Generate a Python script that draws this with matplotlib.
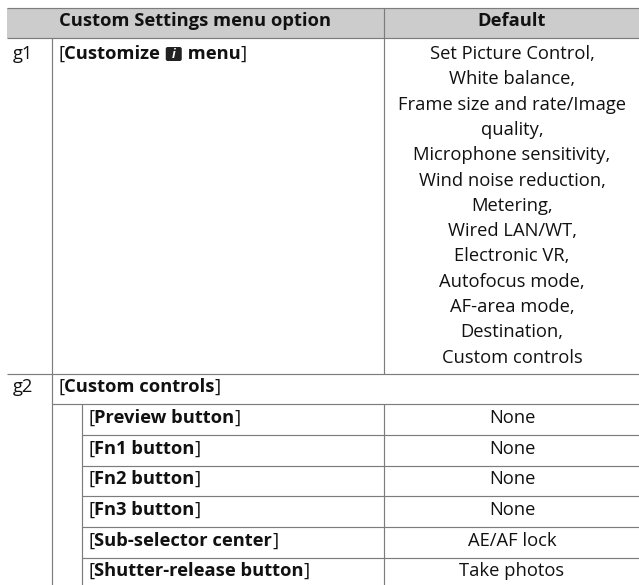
import matplotlib
matplotlib.use("Agg")
import matplotlib.pyplot as plt
from matplotlib.patches import Rectangle, FancyBboxPatch

plt.rcParams['font.family'] = ['Open Sans', 'DejaVu Sans']

W, H = 639, 585
header_left = "Custom Settings menu option"
header_right = "Default"
g1_default = ["Set Picture Control,", "White balance,", "Frame size and rate/Image", "quality,",
              "Microphone sensitivity,", "Wind noise reduction,", "Metering,", "Wired LAN/WT,",
              "Electronic VR,", "Autofocus mode,", "AF-area mode,", "Destination,", "Custom controls"]
sub_options = ["Preview button", "Fn1 button", "Fn2 button", "Fn3 button", "Sub-selector center", "Shutter-release button"]
sub_defaults = ["None", "None", "None", "None", "AE/AF lock", "Take photos"]

fig = plt.figure(figsize=(W/100, H/100), dpi=100)
ax = fig.add_axes([0, 0, 1, 1])
ax.set_xlim(0, W); ax.set_ylim(H, 0); ax.axis('off')

LC = '#7c7c7c'; LW = 0.85; FS = 13.2; TC = '#111111'
def hl(y, x0, x1=W): ax.plot([x0, x1], [y, y], color=LC, lw=LW, solid_capstyle='butt')
def vl(x, y0, y1): ax.plot([x, x], [y0, y1], color=LC, lw=LW, solid_capstyle='butt')

ax.add_patch(Rectangle((7, 8), W-7, 30, fc='#cccccc', ec='none'))
hl(8, 7); hl(38, 7); hl(374, 7); hl(404, 52)
row_lines = [435, 466, 496, 527, 558]
for y in row_lines: hl(y, 82)
vl(52, 38, 585); vl(82, 404, 585); vl(384, 8, 374); vl(384, 404, 585)

def t(x, y, s, **k):
    k.setdefault('fontsize', FS); k.setdefault('color', TC)
    return ax.text(x, y, s, va='baseline', **k)

t(195, 26.5, header_left, ha='center', fontweight='bold')
t(512, 26.5, header_right, ha='center', fontweight='bold')
t(13, 59, "g1"); t(13, 392, "g2")

def bracket(x, y, parts):
    r = fig.canvas.get_renderer()
    for s, w in parts:
        if s is None:
            ax.add_patch(FancyBboxPatch((x+1, y-12), 16, 14, boxstyle="round,pad=0,rounding_size=2", fc='#222222', ec='none'))
            ax.text(x+9, y-5, "i", color='white', fontsize=9, fontweight='bold', style='italic', ha='center', va='center')
            x += 18
            continue
        tx = t(x, y, s, fontweight=w)
        # advance by the text width, keeping trailing spaces
        x += ax.text(0, 0, s.replace(' ', '\u00a0'), fontsize=FS, fontweight=w, alpha=0).get_window_extent(r).width

bracket(58, 59, [("[", 'normal'), ("Customize ", 'bold'), (None, None), (" menu", 'bold'), ("]", 'normal')])
bracket(58, 392, [("[", 'normal'), ("Custom controls", 'bold'), ("]", 'normal')])

for i, s in enumerate(g1_default):
    t(512, 59 + i*25.3, s, ha='center')
baselines = [423, 454, 484, 515, 546, 576]
for b, s, d in zip(baselines, sub_options, sub_defaults):
    bracket(88, b, [("[", 'normal'), (s, 'bold'), ("]", 'normal')])
    t(512, b, d, ha='center')

fig.savefig("out.png", dpi=100, facecolor='white')
